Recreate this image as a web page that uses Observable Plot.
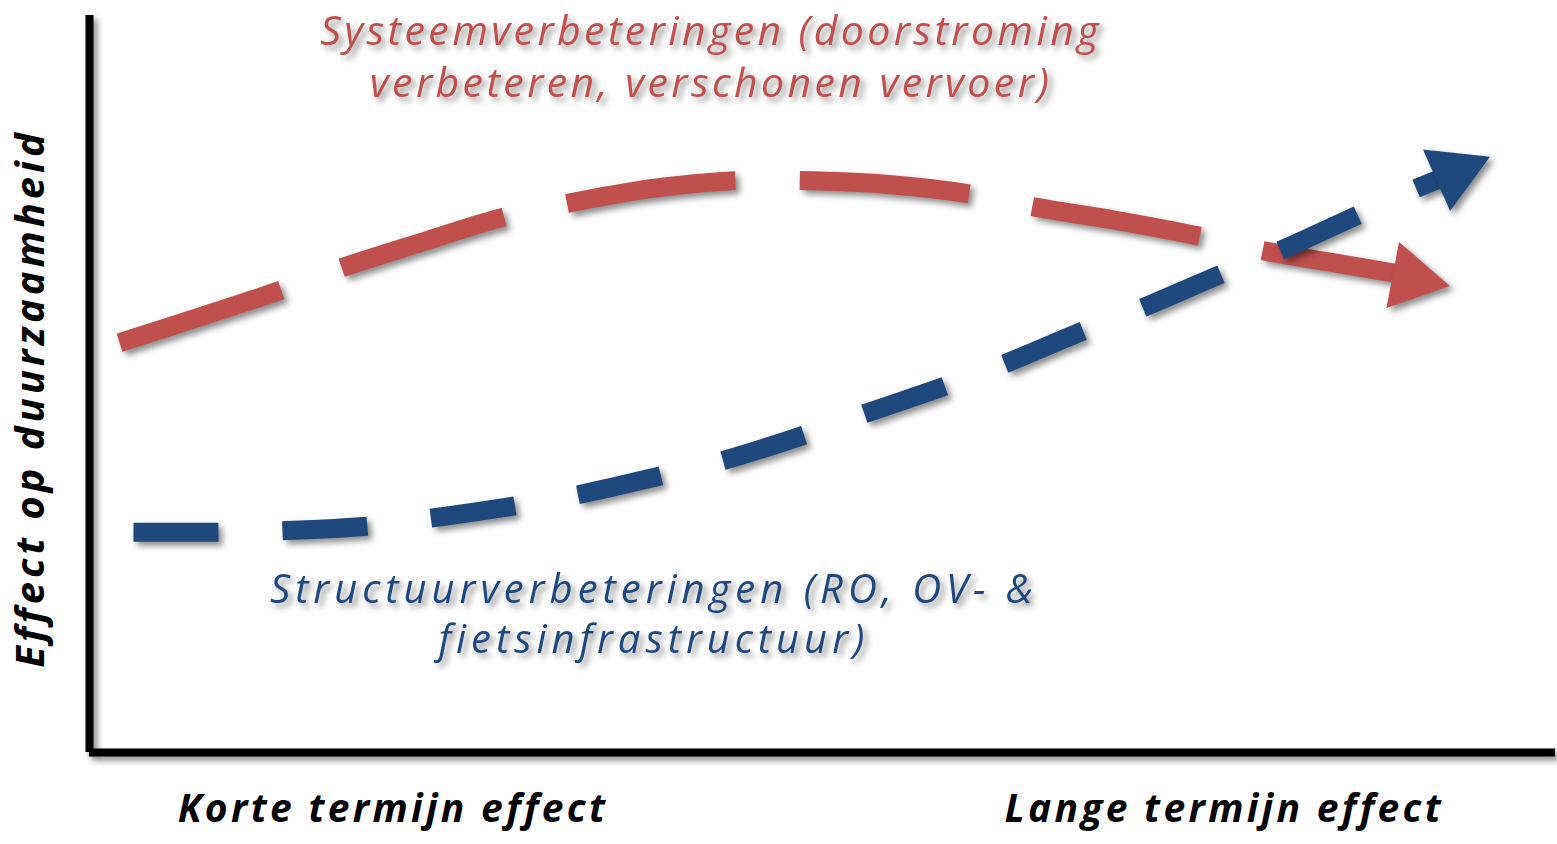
<!DOCTYPE html>
<html><head><meta charset="utf-8">
<script src="https://cdn.jsdelivr.net/npm/d3@7"></script>
<script src="https://cdn.jsdelivr.net/npm/@observablehq/plot@0.6"></script>
<style>
html,body{margin:0;padding:0;background:#fff;overflow:hidden}
#chart svg{display:block}
svg g[aria-description~="shadow"]{filter:drop-shadow(4px 4px 3px rgba(0,0,0,0.45));}
svg g[aria-description~="redlabel"] text{letter-spacing:3.4px}
svg g[aria-description~="bluelabel"] text{letter-spacing:5px}
svg g[aria-description~="ylabel"] text{letter-spacing:4px}
svg g[aria-label="x-axis tick label"] text{letter-spacing:3.3px}
</style></head><body><div id="chart"></div>
<script>
// Systeemverbeteringen (red) curve (x: time horizon 0-100, y: effect 0-100)
const redX = [2.05, 13.0, 17.1, 22.6, 28.0, 32.6, 38.3, 44.1, 48.5, 54.3, 60.0, 64.2, 70.0, 75.6, 80.0, 84.7, 89.4];
const redY = [55.6, 62.7, 65.7, 69.2, 72.5, 74.5, 76.5, 77.6, 77.6, 77.1, 75.8, 74.1, 72.2, 70.1, 68.1, 66.5, 64.9];
const redHead = {x: 90.2, y: 64.3, angle: 100.8};
// Structuurverbeteringen (blue) curve
const blueX = [3.0, 8.8, 13.2, 18.9, 23.3, 29.1, 33.4, 39.1, 43.2, 48.8, 52.9, 58.5, 62.5, 67.9, 71.9, 77.3, 81.2, 86.7, 90.7, 92.2];
const blueY = [29.9, 29.9, 30.1, 30.7, 31.8, 33.5, 35.0, 37.6, 39.6, 43.1, 46.0, 49.8, 52.8, 57.3, 60.4, 65.0, 68.1, 73.1, 76.7, 77.9];
const blueHead = {x: 93.1, y: 78.7, angle: 66.3};
// labels
const seriesLabels = ["Systeemverbeteringen (doorstroming\nverbeteren, verschonen vervoer)", "Structuurverbeteringen (RO, OV- &\nfietsinfrastructuur)"];
const seriesLabelX = [42.4, 38.5];
const seriesLabelY = [94.7, 19.1];
const horizonTicks = [20.7, 77.4];
const horizonLabels = ["Korte termijn effect", "Lange termijn effect"];
const yLabel = "Effect op duurzaamheid";

const RED = "#C0504D", BLUE = "#1F497D";
const red = redX.map((x, i) => ({x, y: redY[i]}));
const blue = blueX.map((x, i) => ({x, y: blueY[i]}));
const FONT = "'Open Sans', sans-serif";

const chart = Plot.plot({
  width: 1557, height: 844,
  marginLeft: 89, marginRight: 2, marginTop: 15, marginBottom: 92,
  style: {fontFamily: FONT, color: "black", background: "white"},
  x: {domain: [0, 100]},
  y: {domain: [0, 100], axis: null},
  marks: [
    Plot.ruleX([0], {y1: 0, y2: 100, stroke: "black", strokeWidth: 8, ariaDescription: "shadow"}),
    Plot.ruleY([0], {x1: 0, x2: 100, stroke: "black", strokeWidth: 8, ariaDescription: "shadow"}),
    Plot.line(red, {x: "x", y: "y", curve: "catmull-rom", stroke: RED, strokeWidth: 19,
      strokeDasharray: "170,64.5", strokeLinecap: "butt", strokeLinejoin: "miter", ariaDescription: "shadow"}),
    Plot.dot([redHead], {x: "x", y: "y", symbol: "triangle", r: 25, fill: RED, stroke: "none", rotate: "angle", ariaDescription: "shadow"}),
    Plot.line(blue, {x: "x", y: "y", curve: "catmull-rom", stroke: BLUE, strokeWidth: 19,
      strokeDasharray: "85,64", strokeLinecap: "butt", strokeLinejoin: "miter", ariaDescription: "shadow"}),
    Plot.dot([blueHead], {x: "x", y: "y", symbol: "triangle", r: 25, fill: BLUE, stroke: "none", rotate: "angle", ariaDescription: "shadow"}),
    Plot.text([0], {x: seriesLabelX[0], y: seriesLabelY[0], text: () => seriesLabels[0], fill: RED, fontSize: 41, fontStyle: "italic", lineHeight: 1.27, ariaDescription: "shadow redlabel"}),
    Plot.text([0], {x: seriesLabelX[1], y: seriesLabelY[1], text: () => seriesLabels[1], fill: BLUE, fontSize: 40, fontStyle: "italic", lineHeight: 1.27, ariaDescription: "shadow bluelabel"}),
    Plot.text([yLabel], {frameAnchor: "left", textAnchor: "middle", rotate: -90, dx: -58, dy: 14.5, text: d => d, fontSize: 40, fontWeight: "bold", fontStyle: "italic", fill: "black", ariaDescription: "ylabel"}),
    Plot.axisX(horizonTicks, {tickSize: 0, tickPadding: 42, tickFormat: d => horizonLabels[horizonTicks.indexOf(d)], fontSize: 39, fontWeight: "bold", fontStyle: "italic", fill: "black", label: null})
  ]
});
document.getElementById("chart").append(chart);
</script></body></html>
